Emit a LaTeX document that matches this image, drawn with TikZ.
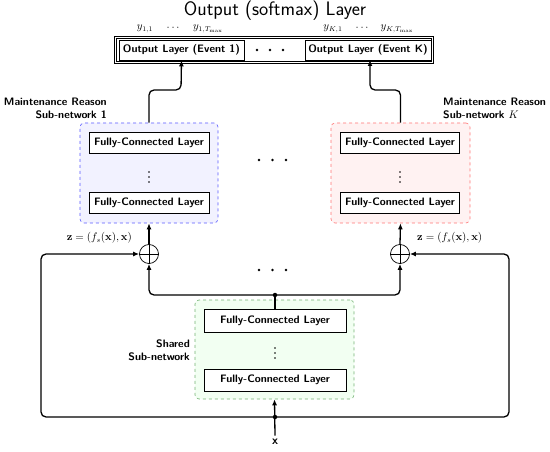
\documentclass[tikz,border=0pt]{standalone}
\usepackage{amsmath}
\usetikzlibrary{arrows.meta,calc}
\begin{document}
\begin{tikzpicture}[x=1pt,y=-1pt,
  font=\sffamily\bfseries\fontsize{10.8}{13}\selectfont,
  layerbox/.style={draw,line width=0.7pt,fill=white,inner sep=0pt,minimum height=21pt},
  subbox/.style={draw,dashed,line width=0.6pt,rounded corners=4pt,inner sep=0pt},
  conn/.style={line width=1.3pt,rounded corners=5pt},
  arr/.style={conn,-{Latex[length=6pt,width=5pt]}},
  lbl/.style={inner sep=0pt,align=right},
  dotmark/.style={circle,fill=black,inner sep=0pt,minimum size=4.5pt},
  smalldot/.style={circle,fill=black,inner sep=0pt,minimum size=2.6pt},
  tinydot/.style={circle,fill=black,inner sep=0pt,minimum size=1.7pt},
  mathlbl/.style={font=\normalfont\fontsize{10.5}{12}\selectfont,inner sep=0pt}
]
\useasboundingbox (0,0) rectangle (550,452);
% title and outputs
\node[font=\sffamily\fontsize{19.5}{22}\selectfont,inner sep=0pt] (title) at (275,11) {Output (softmax) Layer};
\node[mathlbl] (y11) at (145,29) {$y_{1,1}$};
\node[mathlbl] (yc1) at (174,28) {$\cdots$};
\node[mathlbl] (y1T) at (208,29) {$y_{1,T_{\max}}$};
\node[mathlbl] (yK1) at (333,29) {$y_{K,1}$};
\node[mathlbl] (ycK) at (363,28) {$\cdots$};
\node[mathlbl] (yKT) at (397,29) {$y_{K,T_{\max}}$};
\node[draw,double,line width=0.5pt,double distance=1.2pt,minimum width=317pt,minimum height=25pt,inner sep=0pt] (outbox) at (274,50) {};
\node[layerbox,minimum width=125pt,minimum height=20pt] (out1) at (181.5,50) {Output Layer (Event 1)};
\node[layerbox,minimum width=126pt,minimum height=20pt] (outK) at (368,50) {Output Layer (Event K)};
\foreach \i/\xx in {1/257,2/270,3/283} \node[smalldot] (od\i) at (\xx,50) {};
% left sub-network
\node[subbox,draw=blue!65,fill=blue!5,minimum width=138pt,minimum height=100pt] (sub1) at (149,173) {};
\node[layerbox,minimum width=120pt] (fc1a) at (149,142.5) {Fully-Connected Layer};
\node[layerbox,minimum width=120pt] (fc1b) at (149,202.5) {Fully-Connected Layer};
\foreach \i/\yy in {1/172,2/177,3/182} \node[tinydot] (vd1\i) at (149,\yy) {};
\node[lbl,anchor=east] (lab1a) at (107,102) {Maintenance Reason};
\node[lbl,anchor=east] (lab1b) at (107,115) {Sub-network 1};
% right sub-network
\node[subbox,draw=red!55,fill=red!5,minimum width=139pt,minimum height=100pt] (subK) at (400.5,173) {};
\node[layerbox,minimum width=119pt] (fcKa) at (400,142.5) {Fully-Connected Layer};
\node[layerbox,minimum width=119pt] (fcKb) at (400,202.5) {Fully-Connected Layer};
\foreach \i/\yy in {1/172,2/177,3/182} \node[tinydot] (vdK\i) at (400,\yy) {};
\node[lbl,anchor=west,align=left] (labKa) at (443,102) {Maintenance Reason};
\node[lbl,anchor=west,align=left] (labKb) at (443,115) {Sub-network $K$};
% middle dots
\foreach \i/\xx in {1/259,2/272.5,3/286} {
  \node[smalldot] (ma\i) at (\xx,160) {};
  \node[smalldot] (mb\i) at (\xx,270) {};
}
% oplus
\node[draw,circle,line width=0.7pt,minimum size=19pt,inner sep=0pt] (op1) at (149,254) {};
\draw[line width=0.7pt] (op1.north) -- (op1.south) (op1.west) -- (op1.east);
\node[draw,circle,line width=0.7pt,minimum size=19pt,inner sep=0pt] (opK) at (400,254) {};
\draw[line width=0.7pt] (opK.north) -- (opK.south) (opK.west) -- (opK.east);
\node[mathlbl,anchor=east] (z1) at (132,238) {$\mathbf{z}=(f_s(\mathbf{x}),\mathbf{x})$};
\node[mathlbl,anchor=west] (zK) at (417,238) {$\mathbf{z}=(f_s(\mathbf{x}),\mathbf{x})$};
% shared
\node[subbox,draw=green!45!black!55,fill=green!5,minimum width=159pt,minimum height=99pt] (shared) at (274.5,349.5) {};
\node[layerbox,minimum width=142pt,minimum height=23pt] (fcSa) at (275,320.5) {Fully-Connected Layer};
\node[layerbox,minimum width=142pt,minimum height=22pt] (fcSb) at (275,380) {Fully-Connected Layer};
\foreach \i/\yy in {1/348,2/353,3/358} \node[tinydot] (vdS\i) at (275,\yy) {};
\node[lbl,anchor=east] (labSa) at (190,344) {Shared};
\node[lbl,anchor=east] (labSb) at (190,357) {Sub-network};
% input
\node[font=\sffamily\bfseries\fontsize{12}{14}\selectfont] (xin) at (275,442) {x};
\coordinate (jb) at (275,417);
\coordinate (jt) at (275,295);
% connectors
\draw[arr] (xin.north) -- (shared.south);
\draw[conn] (fcSa.north) -- (jt);
\draw[arr] (jt) -| (op1.south);
\draw[arr] (jt) -| (opK.south);
\draw[arr] (jb) -| (41,254) -- (op1.west);
\draw[arr] (jb) -| (509,254) -- (opK.east);
\draw[arr] (op1.north) -- (sub1.south);
\draw[arr] (opK.north) -- (subK.south);
\draw[arr] (sub1.north) |- (181,90) -- (out1.south);
\draw[arr] (subK.north) |- (370,90) -- (370,60);
\node[dotmark] (dt) at (jt) {};
\node[dotmark] (db) at (jb) {};
\end{tikzpicture}
\end{document}
